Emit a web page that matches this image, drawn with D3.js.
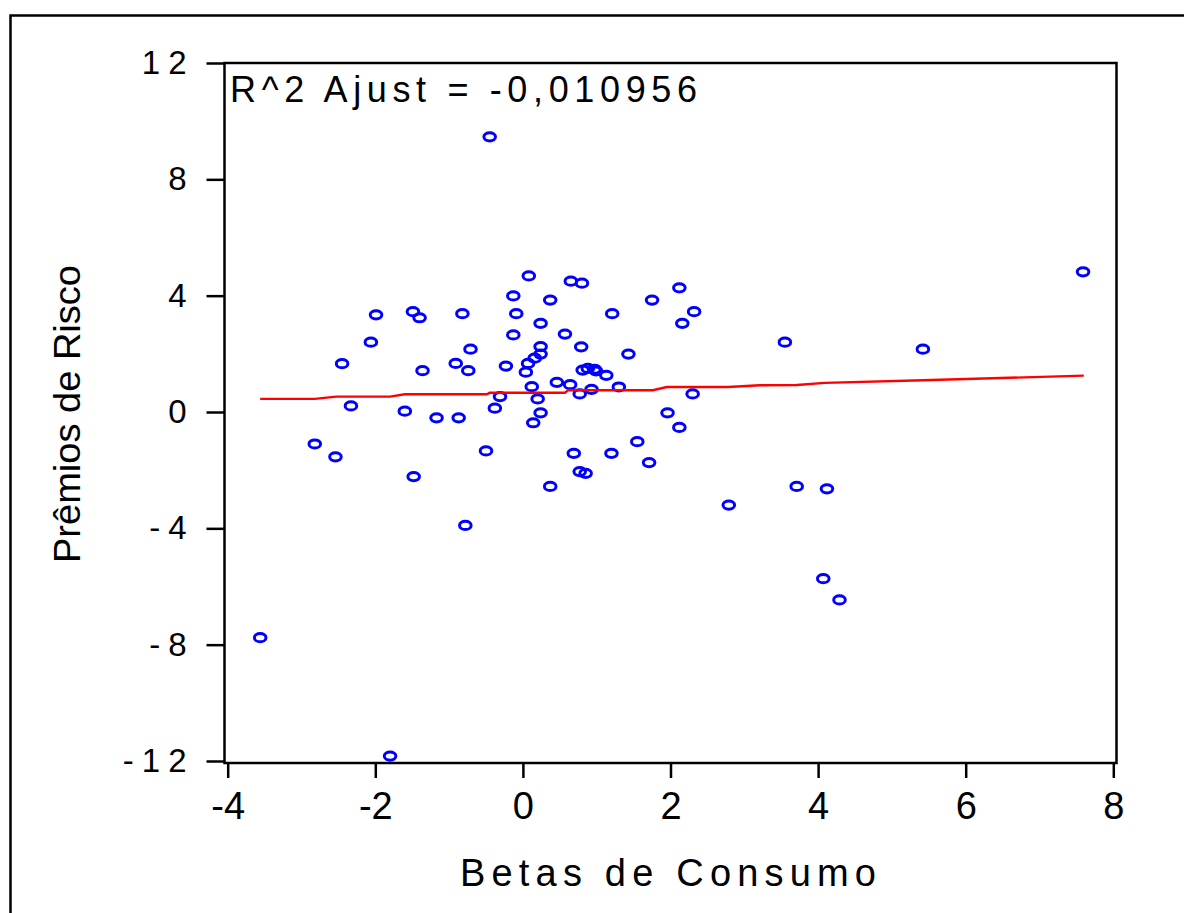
<!DOCTYPE html>
<html><head><meta charset="utf-8">
<script src="https://cdn.jsdelivr.net/npm/d3@7"></script>
<style>body{margin:0;background:#fff;overflow:hidden}</style>
</head><body><svg id="c" width="1184" height="913"></svg>
<script>
// Betas de Consumo (x) and Prêmios de Risco (y)
const betas = [0.08, 0.65, 0.80, -0.13, 0.37, 2.12, 1.75, 1.21, 2.32, -0.09,
  0.24, 2.16, -0.13, 0.57, 0.79, 0.24, 0.24, 1.43, 0.16, 0.07,
  0.04, -0.23, 0.81, 0.88, 0.97, 0.99, 1.13, 0.46, 0.64, 0.12,
  0.77, 0.93, 1.30, 2.30, 0.20, -0.31, -0.38, 0.24, 0.14, 1.96,
  2.12, 1.55, 0.69, 1.20, 1.71, 0.77, 0.85, 0.37, -1.99, -1.49,
  -1.40, -0.82, -2.06, -0.71, -2.45, -1.36, -0.91, -0.74, -2.33, -1.60,
  -1.17, -0.87, -2.82, -2.54, -0.50, -1.48, 7.59, 3.55, 5.42, 3.71,
  4.12, -3.56, -1.80, -0.78, 2.79, 4.07, 4.29, -0.45];
const premios = [4.68, 4.50, 4.43, 3.99, 3.85, 4.27, 3.85, 3.38, 3.45, 3.38,
  3.05, 3.05, 2.65, 2.68, 2.24, 2.25, 1.99, 1.99, 1.85, 1.67,
  1.37, 1.58, 1.44, 1.50, 1.47, 1.41, 1.26, 1.02, 0.94, 0.87,
  0.62, 0.78, 0.86, 0.62, 0.45, 0.53, 0.13, -0.03, -0.37, -0.03,
  -0.53, -1.02, -1.42, -1.42, -1.74, -2.05, -2.11, -2.56, 3.34, 3.45,
  3.24, 3.38, 2.40, 2.16, 1.66, 1.42, 1.67, 1.42, 0.21, 0.03,
  -0.20, -0.20, -1.10, -1.54, -1.34, -2.22, 4.82, 2.40, 2.16, -2.56,
  -2.64, -7.76, -11.83, -3.90, -3.20, -5.73, -6.46, 9.46];
// fitted regression line as drawn
const fitBetas   = [-3.56, -2.82, -2.53, -1.80, -1.60, -0.49, -0.45, 0.57, 0.61, 1.76, 1.95, 2.78, 3.21, 3.71, 4.09, 5.42, 7.60];
const fitPremios = [0.45, 0.45, 0.53, 0.53, 0.61, 0.61, 0.66, 0.66, 0.75, 0.75, 0.86, 0.86, 0.92, 0.93, 1.00, 1.09, 1.25];
const xTicks = [-4, -2, 0, 2, 4, 6, 8];
const yTicks = [12, 8, 4, 0, -4, -8, -12];
const r2Label = "R^2 Ajust = -0,010956";
const xTitle = "Betas de Consumo";
const yTitle = "Prêmios de Risco";

const svg = d3.select("#c");
const font = "'Liberation Sans', Arial, Helvetica, sans-serif";

// outer frame (top & left edges visible)
svg.append("rect").attr("x", 10.5).attr("y", 15.5).attr("width", 1300).attr("height", 1000)
  .attr("fill", "none").attr("stroke", "#000").attr("stroke-width", 2.5);

const x = d3.scaleLinear().domain([-4, 8]).range([227.7, 1113.3]);
const y = d3.scaleLinear().domain([-12, 12]).range([761, 63]);
const L = 224.5, R = 1116.5, T = 63, B = 763;

// points
svg.append("g").selectAll("ellipse").data(betas.map((b, i) => [b, premios[i]])).join("ellipse")
  .attr("cx", d => x(d[0])).attr("cy", d => y(d[1]))
  .attr("rx", 5.8).attr("ry", 4.1).attr("fill", "none")
  .attr("stroke", "#0000ff").attr("stroke-width", 3);

// fitted line
svg.append("path").datum(fitBetas.map((b, i) => [b, fitPremios[i]]))
  .attr("d", d3.line().x(d => x(d[0])).y(d => y(d[1])))
  .attr("fill", "none").attr("stroke", "#ff0000").attr("stroke-width", 2.4);

// frame of plot area
svg.append("rect").attr("x", L).attr("y", T).attr("width", R - L).attr("height", B - T)
  .attr("fill", "none").attr("stroke", "#000").attr("stroke-width", 2.5);

// x axis
const gx = svg.append("g").attr("transform", `translate(0,${B})`)
  .call(d3.axisBottom(x).tickValues(xTicks).tickSize(15).tickPadding(14).tickFormat(d3.format("d")));
gx.select(".domain").remove();
gx.selectAll("line").attr("stroke", "#000").attr("stroke-width", 2.5);
gx.selectAll("text").attr("font-family", font).attr("font-size", 38).attr("fill", "#000")
  .attr("dy", "0.71em").text(d => String(d).replace("−", "-"));

// y axis
const gy = svg.append("g").attr("transform", `translate(${L},0)`)
  .call(d3.axisLeft(y).tickValues(yTicks).tickSize(18).tickPadding(12).tickFormat(d3.format("d")));
gy.select(".domain").remove();
gy.selectAll("line").attr("stroke", "#000").attr("stroke-width", 2.5);
gy.selectAll("text").attr("font-family", font).attr("font-size", 33).attr("fill", "#000")
  .attr("letter-spacing", 8).text(d => String(d).replace("−", "-"));

// annotation
svg.append("text").attr("x", 230).attr("y", 102).attr("font-family", font).attr("font-size", 36)
  .attr("textLength", 467).attr("lengthAdjust", "spacing").text(r2Label);

// titles
svg.append("text").attr("x", 460).attr("y", 886).attr("font-family", font).attr("font-size", 38)
  .attr("textLength", 416).attr("lengthAdjust", "spacing").text(xTitle);
svg.append("text").attr("transform", "translate(80,563) rotate(-90)")
  .attr("font-family", font).attr("font-size", 36)
  .attr("textLength", 298).attr("lengthAdjust", "spacingAndGlyphs").text(yTitle);
</script>
</body></html>
